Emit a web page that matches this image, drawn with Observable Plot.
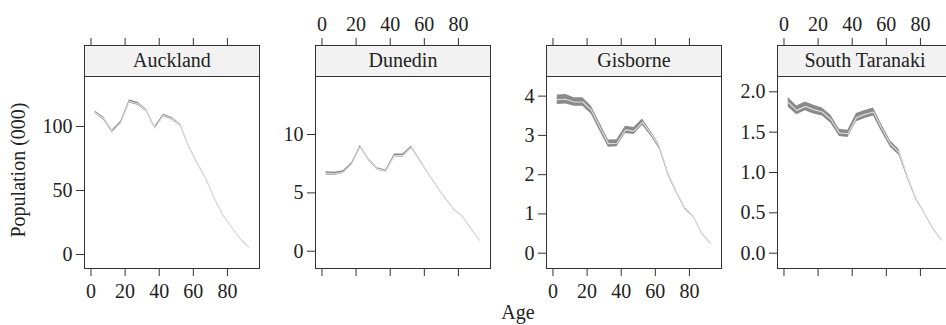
<!DOCTYPE html>
<html><head><meta charset="utf-8">
<script src="https://cdn.jsdelivr.net/npm/d3@7"></script>
<script src="https://cdn.jsdelivr.net/npm/@observablehq/plot@0.6"></script>
<style>
body{margin:0;overflow:hidden;background:#fff;font-family:"Liberation Serif",serif;}
#wrap{position:relative;width:946px;height:325px;overflow:hidden;}
#wrap svg{position:absolute;top:0;}
.strip{position:absolute;box-sizing:border-box;background:#f2f2f2;border:1px solid #333;text-align:center;font-size:20px;color:#222;line-height:29px;}
.ylab{position:absolute;font-size:20px;color:#222;white-space:nowrap;transform:translate(-50%,-50%) rotate(-90deg);}
.xlab{position:absolute;font-size:20px;color:#222;white-space:nowrap;transform:translateX(-50%);}
</style></head>
<body><div id="wrap"></div>
<script>
const ages = [2.5, 7.5, 12.5, 17.5, 22.5, 27.5, 32.5, 37.5, 42.5, 47.5, 52.5, 57.5, 62.5, 67.5, 72.5, 77.5, 82.5, 87.5, 92.5];
const regions = ["Auckland", "Dunedin", "Gisborne", "South Taranaki"];

const auckland     = [111, 106, 96, 103, 119.5, 117.7, 112.5, 99, 108.6, 106, 100.8, 84, 71, 59, 43.5, 30.5, 21.3, 12.3, 5.7];
const aucklandHalf = [1.1, 1.1, 1.1, 1.1, 1.1, 1.1, 1.0, 1.0, 1.0, 1.0, 0.9, 0.7, 0.5, 0.4, 0.3, 0.3, 0.2, 0.2, 0.2];
const dunedin      = [6.68, 6.63, 6.77, 7.49, 8.97, 7.83, 7.06, 6.86, 8.2, 8.2, 8.91, 7.77, 6.63, 5.54, 4.49, 3.55, 2.97, 1.92, 0.92];
const dunedinHalf  = [0.14, 0.14, 0.12, 0.1, 0.1, 0.1, 0.1, 0.1, 0.12, 0.12, 0.1, 0.08, 0.06, 0.05, 0.04, 0.04, 0.03, 0.03, 0.02];
const gisborne     = [3.91, 3.92, 3.85, 3.85, 3.64, 3.21, 2.79, 2.80, 3.14, 3.11, 3.34, 3.04, 2.70, 2.02, 1.55, 1.13, 0.92, 0.49, 0.25];
const gisborneHalf = [0.12, 0.12, 0.11, 0.11, 0.1, 0.1, 0.09, 0.09, 0.09, 0.09, 0.08, 0.06, 0.05, 0.04, 0.03, 0.03, 0.02, 0.02, 0.015];
const taranaki     = [1.87, 1.77, 1.82, 1.78, 1.75, 1.66, 1.49, 1.48, 1.68, 1.72, 1.75, 1.54, 1.35, 1.25, 0.94, 0.67, 0.49, 0.30, 0.16];
const taranakiHalf = [0.06, 0.055, 0.055, 0.055, 0.05, 0.05, 0.045, 0.045, 0.05, 0.05, 0.05, 0.045, 0.04, 0.035, 0.02, 0.015, 0.012, 0.01, 0.008];

const xTicks = [0, 20, 40, 60, 80];
const aucklandTicks = [0, 50, 100];
const dunedinTicks = [0, 5, 10];
const gisborneTicks = [0, 1, 2, 3, 4];
const taranakiTicks = [0, 0.5, 1, 1.5, 2];

const xLimits = [-3.8, 98.8];
const aucklandLimits = [-10.9, 139];
const dunedinLimits = [-1.48, 14.97];
const gisborneLimits = [-0.39, 4.50];
const taranakiLimits = [-0.19, 2.19];

const yLabel = "Population (000)";
const xLabel = "Age";

const panels = [
  {name: regions[0], values: auckland, half: aucklandHalf, ticks: aucklandTicks, limits: aucklandLimits, fmt: d3.format("d"), labelsBottom: true},
  {name: regions[1], values: dunedin, half: dunedinHalf, ticks: dunedinTicks, limits: dunedinLimits, fmt: d3.format("d"), labelsBottom: false},
  {name: regions[2], values: gisborne, half: gisborneHalf, ticks: gisborneTicks, limits: gisborneLimits, fmt: d3.format("d"), labelsBottom: true},
  {name: regions[3], values: taranaki, half: taranakiHalf, ticks: taranakiTicks, limits: taranakiLimits, fmt: d3.format(".1f"), labelsBottom: false}
];

const wrap = document.getElementById("wrap");
const PANEL_W = 175, STEP = 231, FIRST = 84, TOP = 45, STRIP_B = 76, BOTTOM = 268, H = 325;

panels.forEach((p, i) => {
  const L = FIRST + STEP * i;
  const mL = i === 0 ? FIRST : 60;
  const data = ages.map((a, j) => ({age: a, v: p.values[j], lo: p.values[j] - p.half[j], hi: p.values[j] + p.half[j]}));
  const blank = () => "";
  const chart = Plot.plot({
    width: mL + PANEL_W + 2, height: H,
    marginLeft: mL, marginRight: 2, marginTop: TOP, marginBottom: H - BOTTOM,
    style: {fontSize: "20px", fontFamily: "Liberation Serif", color: "#222", background: "transparent", overflow: "visible"},
    x: {domain: xLimits},
    y: {domain: p.limits, range: [BOTTOM, STRIP_B]},
    marks: [
      Plot.areaY(data, {x: "age", y1: "lo", y2: "hi", fill: "#8a8a8a"}),
      Plot.lineY(data, {x: "age", y: "v", stroke: "#dcdcdc", strokeWidth: 1.2}),
      Plot.frame({stroke: "#333"}),
      Plot.axisY({anchor: "left", label: null, ticks: p.ticks, tickSize: 8, tickPadding: 4, tickFormat: p.fmt, stroke: "#333"}),
      Plot.axisX({anchor: "bottom", label: null, ticks: xTicks, tickSize: 8, tickPadding: 7, tickFormat: p.labelsBottom ? d3.format("d") : blank, stroke: "#333"}),
      Plot.axisX({anchor: "top", label: null, ticks: xTicks, tickSize: 8, tickPadding: 7, tickFormat: p.labelsBottom ? blank : d3.format("d"), stroke: "#333"})
    ]
  });
  chart.style.left = (L - mL) + "px";
  wrap.appendChild(chart);
  const strip = document.createElement("div");
  strip.className = "strip";
  strip.style.left = L + "px";
  strip.style.top = TOP + "px";
  strip.style.width = (PANEL_W + 1) + "px";
  strip.style.height = (STRIP_B - TOP + 1) + "px";
  strip.textContent = p.name;
  wrap.appendChild(strip);
});

const yl = document.createElement("div");
yl.className = "ylab"; yl.textContent = yLabel;
yl.style.left = "18px"; yl.style.top = "170px";
wrap.appendChild(yl);
const xl = document.createElement("div");
xl.className = "xlab"; xl.textContent = xLabel;
xl.style.left = "518px"; xl.style.top = "301px";
wrap.appendChild(xl);
</script>
</body></html>
